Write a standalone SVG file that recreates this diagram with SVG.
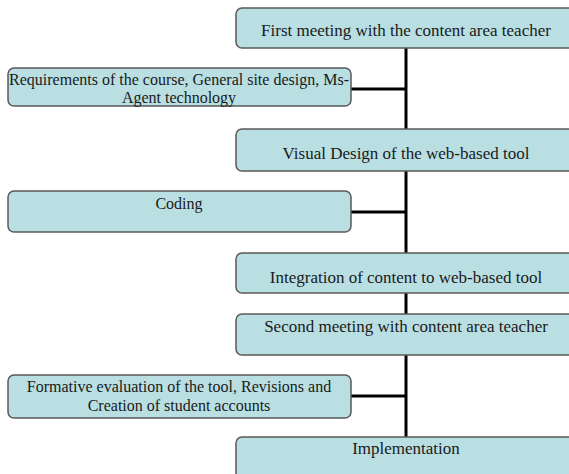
<svg xmlns="http://www.w3.org/2000/svg" width="569" height="474" viewBox="0 0 569 474">
<style>
.box{fill:#b9dfe3;stroke:#5a5a5a;stroke-width:1.5}
.t{font-family:"Liberation Serif","Times New Roman",serif;font-size:17px;fill:#1a1a1a;text-anchor:middle}
.s{font-size:16px}
.c{stroke:#000;stroke-width:3;fill:none}
</style>
<rect width="569" height="474" fill="#fff"/>
<g id="connectors">
<line class="c" x1="406" y1="47" x2="406" y2="438"/>
<line class="c" x1="351" y1="89" x2="406" y2="89"/>
<line class="c" x1="351" y1="212" x2="406" y2="212"/>
<line class="c" x1="351" y1="396" x2="406" y2="396"/>
</g>
<g id="n1"><rect class="box" x="236" y="8" width="350" height="40" rx="6"/><text class="t" x="406" y="36">First meeting with the content area teacher</text></g>
<g id="n2"><rect class="box" x="8" y="68" width="343" height="38" rx="6"/><text class="t s" x="179" y="85">Requirements of the course, General site design, Ms-</text><text class="t s" x="179" y="103">Agent technology</text></g>
<g id="n3"><rect class="box" x="236" y="129" width="350" height="42" rx="6"/><text class="t" x="406" y="159">Visual Design of the web-based tool</text></g>
<g id="n4"><rect class="box" x="8" y="191" width="343" height="41" rx="6"/><text class="t s" x="179" y="209">Coding</text></g>
<g id="n5"><rect class="box" x="236" y="253" width="350" height="40" rx="6"/><text class="t" x="406" y="283">Integration of content to web-based tool</text></g>
<g id="n6"><rect class="box" x="236" y="314" width="350" height="41" rx="6"/><text class="t" x="406" y="332">Second meeting with content area teacher</text></g>
<g id="n7"><rect class="box" x="8" y="375" width="343" height="43" rx="6"/><text class="t s" x="179" y="392">Formative evaluation of the tool, Revisions and</text><text class="t s" x="179" y="411">Creation of student accounts</text></g>
<g id="n8"><rect class="box" x="236" y="437" width="350" height="50" rx="6"/><text class="t" x="406" y="454">Implementation</text></g>
</svg>
